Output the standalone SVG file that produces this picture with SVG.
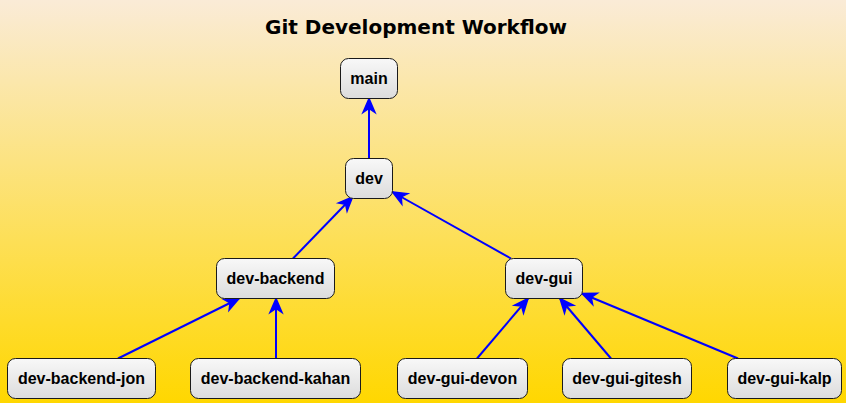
<svg xmlns="http://www.w3.org/2000/svg" width="846" height="403" viewBox="0 0 846 403">
<defs>
<linearGradient id="bg" x1="0" y1="0" x2="0" y2="1">
<stop offset="0" stop-color="#FAEBD7"/>
<stop offset="1" stop-color="#FFD700"/>
</linearGradient>
<linearGradient id="nodefill" x1="0" y1="0" x2="0" y2="1">
<stop offset="0" stop-color="#F8F8F8"/>
<stop offset="1" stop-color="#DCDCDC"/>
</linearGradient>
<marker id="ah" markerUnits="userSpaceOnUse" viewBox="-16 -8 18 16" refX="0" refY="0" markerWidth="18" markerHeight="16" orient="auto" overflow="visible">
<path d="M0,0 L-14,-6 L-10,0 L-14,6 Z" fill="#0000FF" stroke="#0000FF" stroke-width="1.5"/>
</marker>
<style>
.node rect { fill: url(#nodefill); stroke: #1a1a1a; stroke-width: 1; }
.node text { font-family: "Liberation Sans", Arial, sans-serif; font-weight: bold; font-size: 16px; fill: #000; text-anchor: middle; }
.title { font-family: "DejaVu Sans", sans-serif; font-weight: bold; font-size: 20px; fill: #000; text-anchor: middle; }
.conn line { stroke: #0000FF; stroke-width: 2; marker-end: url(#ah); }
</style>
</defs>
<rect x="0" y="0" width="846" height="403" fill="url(#bg)"/>
<text class="title" x="416" y="34">Git Development Workflow</text>
<g id="connectors" class="conn">
<line x1="369" y1="158.5" x2="369" y2="98.5"/>
<line x1="293" y1="258.5" x2="352.5" y2="197"/>
<line x1="511" y1="258.5" x2="392.5" y2="192"/>
<line x1="118" y1="358.5" x2="239" y2="298.5"/>
<line x1="276" y1="358.5" x2="276" y2="298.5"/>
<line x1="477" y1="358.5" x2="528" y2="298.5"/>
<line x1="611" y1="358.5" x2="560" y2="298.5"/>
<line x1="738" y1="358.5" x2="582" y2="293.5"/>
</g>
<g id="main" class="node"><rect x="340.5" y="58.5" width="57" height="40" rx="8"/><text x="369" y="84.2">main</text></g>
<g id="dev" class="node"><rect x="345.5" y="158.5" width="47" height="40" rx="8"/><text x="369" y="184.2">dev</text></g>
<g id="dev-backend" class="node"><rect x="216.5" y="258.5" width="118" height="40" rx="8"/><text x="275.5" y="284.2">dev-backend</text></g>
<g id="dev-gui" class="node"><rect x="505.5" y="258.5" width="77" height="40" rx="8"/><text x="544" y="284.2">dev-gui</text></g>
<g id="dev-backend-jon" class="node"><rect x="7.5" y="358.5" width="148" height="40" rx="8"/><text x="81.5" y="384.2">dev-backend-jon</text></g>
<g id="dev-backend-kahan" class="node"><rect x="190.5" y="358.5" width="170" height="40" rx="8"/><text x="275.5" y="384.2">dev-backend-kahan</text></g>
<g id="dev-gui-devon" class="node"><rect x="397.5" y="358.5" width="130" height="40" rx="8"/><text x="462.5" y="384.2">dev-gui-devon</text></g>
<g id="dev-gui-gitesh" class="node"><rect x="562.5" y="358.5" width="129" height="40" rx="8"/><text x="627" y="384.2">dev-gui-gitesh</text></g>
<g id="dev-gui-kalp" class="node"><rect x="727.5" y="358.5" width="114" height="40" rx="8"/><text x="784.5" y="384.2">dev-gui-kalp</text></g>
</svg>
